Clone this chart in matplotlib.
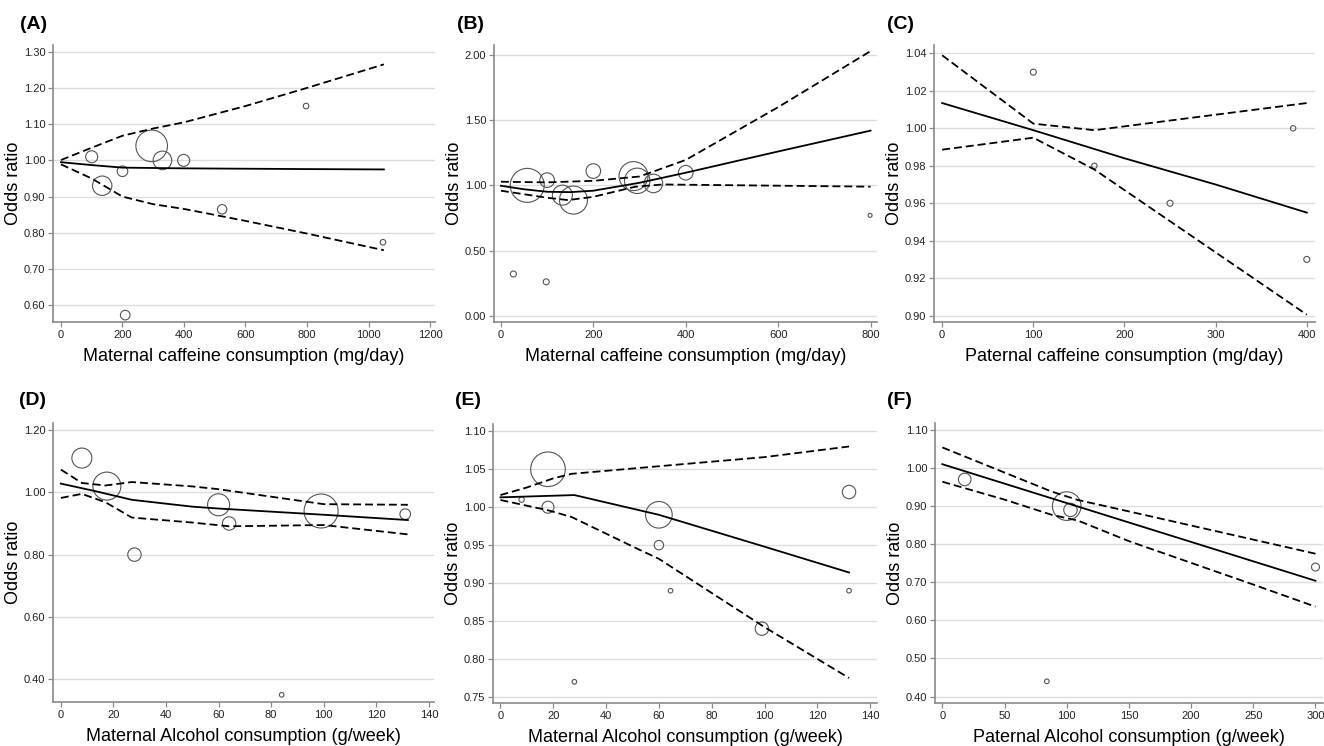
import matplotlib
matplotlib.use("Agg")
import matplotlib.pyplot as plt
import numpy as np

plt.rcParams['font.family'] = ['Liberation Sans', 'DejaVu Sans']

# ---- (A) maternal caffeine ----
a_x = [100, 134, 200, 295, 330, 399, 209, 524, 797, 1047]
a_or = [1.01, 0.93, 0.97, 1.04, 1.00, 1.00, 0.573, 0.865, 1.15, 0.774]
a_wt = [6, 9.7, 5.3, 15.8, 9.3, 6, 4.8, 4.7, 2.8, 2.8]
a_fit_x = [0, 100, 200, 400, 600, 800, 1050]
a_fit = [0.995, 0.987, 0.980, 0.978, 0.977, 0.976, 0.975]
a_ci_x = [0, 100, 200, 300, 400, 600, 800, 1050]
a_hi = [1.001, 1.035, 1.068, 1.088, 1.105, 1.150, 1.200, 1.265]
a_lo = [0.989, 0.950, 0.900, 0.879, 0.866, 0.833, 0.798, 0.752]

# ---- (B) maternal caffeine ----
b_x = [27, 98, 57, 100, 133, 157, 200, 287, 295, 330, 400, 799]
b_or = [0.32, 0.26, 1.00, 1.04, 0.925, 0.887, 1.11, 1.071, 1.035, 1.015, 1.097, 0.77]
b_wt = [3, 3, 17, 7.3, 10, 14, 7.3, 14.5, 12.7, 9.3, 7.3, 2]
b_fit_x = [0, 50, 100, 150, 200, 300, 400, 600, 800]
b_fit = [0.997, 0.97, 0.951, 0.948, 0.959, 1.02, 1.097, 1.26, 1.42]
b_hi_x = [0, 100, 200, 300, 400, 600, 800]
b_hi = [1.028, 1.023, 1.035, 1.068, 1.195, 1.60, 2.03]
b_lo_x = [0, 100, 145, 200, 290, 350, 400, 800]
b_lo = [0.959, 0.905, 0.887, 0.912, 0.989, 1.007, 1.005, 0.99]

# ---- (C) paternal caffeine ----
c_x = [100, 167, 250, 385, 400]
c_or = [1.03, 0.98, 0.96, 1.00, 0.93]
c_wt = [3, 2.7, 3, 2.7, 3]
c_fit_x = [0, 100, 200, 300, 400]
c_fit = [1.0135, 0.999, 0.984, 0.970, 0.955]
c_ci_x = [0, 100, 167, 400]
c_hi = [1.039, 1.0025, 0.999, 1.0135]
c_lo = [0.9886, 0.995, 0.978, 0.9005]

# ---- (D) maternal alcohol ----
d_x = [8, 17.5, 28, 60, 64, 99, 131, 84]
d_or = [1.11, 1.02, 0.80, 0.96, 0.90, 0.94, 0.93, 0.35]
d_wt = [10, 14, 6.7, 11, 6.7, 17, 5.3, 2.3]
d_fit_x = [0, 13, 27, 50, 60, 100, 132]
d_fit = [1.028, 1.004, 0.976, 0.954, 0.948, 0.928, 0.911]
d_hi_x = [0, 8, 17, 27, 50, 60, 100, 132]
d_hi = [1.073, 1.030, 1.022, 1.033, 1.019, 1.010, 0.962, 0.960]
d_lo_x = [0, 8, 17, 27, 50, 64, 100, 132]
d_lo = [0.982, 0.995, 0.968, 0.919, 0.903, 0.891, 0.895, 0.865]

# ---- (E) maternal alcohol ----
e_x = [8, 18, 18, 28, 60, 60, 64.4, 99, 132, 132]
e_or = [1.01, 1.05, 1.00, 0.77, 0.99, 0.95, 0.89, 0.84, 1.02, 0.89]
e_wt = [2.7, 17.3, 6, 2.3, 13.3, 4.7, 2.3, 6.7, 6.7, 2.3]
e_fit_x = [0, 28, 60, 100, 132]
e_fit = [1.013, 1.016, 0.990, 0.948, 0.914]
e_hi_x = [0, 10, 20, 27, 60, 100, 132]
e_hi = [1.016, 1.026, 1.038, 1.044, 1.054, 1.066, 1.080]
e_lo_x = [0, 18, 27, 52, 60, 100, 132]
e_lo = [1.0095, 0.996, 0.987, 0.945, 0.932, 0.842, 0.775]

# ---- (F) paternal alcohol ----
f_x = [18, 100, 103, 84, 300]
f_or = [0.97, 0.90, 0.89, 0.44, 0.74]
f_wt = [6.3, 14.3, 6.7, 2.3, 4]
f_fit_x = [0, 300]
f_fit = [1.010, 0.704]
f_ci_x = [0, 50, 88, 109, 150, 200, 250, 300]
f_hi = [1.054, 0.988, 0.938, 0.916, 0.886, 0.849, 0.812, 0.775]
f_lo = [0.964, 0.917, 0.877, 0.862, 0.808, 0.751, 0.694, 0.636]

cafe_m = 'Maternal caffeine consumption (mg/day)'
cafe_p = 'Paternal caffeine consumption (mg/day)'
alc_m = 'Maternal Alcohol consumption (g/week)'
alc_p = 'Paternal Alcohol consumption (g/week)'

panels = [
    # letter, rect, data, xlim, ylim, xticks, yticks, xlabel
    ('(A)', [0.040, 0.5684, 0.2885, 0.3713],
     (a_x, a_or, a_wt, a_fit_x, a_fit, a_ci_x, a_hi, a_ci_x, a_lo),
     (-26, 1216), (0.554, 1.3185), np.arange(0, 1201, 200), np.arange(0.6, 1.301, 0.1), cafe_m),
    ('(B)', [0.3731, 0.5684, 0.2893, 0.3713],
     (b_x, b_or, b_wt, b_fit_x, b_fit, b_hi_x, b_hi, b_lo_x, b_lo),
     (-15, 814), (-0.048, 2.077), np.arange(0, 801, 200), np.arange(0, 2.01, 0.5), cafe_m),
    ('(C)', [0.7054, 0.5684, 0.2878, 0.3713],
     (c_x, c_or, c_wt, c_fit_x, c_fit, c_ci_x, c_hi, c_ci_x, c_lo),
     (-9, 409), (0.8966, 1.0445), np.arange(0, 401, 100), np.arange(0.90, 1.0401, 0.02), cafe_p),
    ('(D)', [0.040, 0.059, 0.2877, 0.374],
     (d_x, d_or, d_wt, d_fit_x, d_fit, d_hi_x, d_hi, d_lo_x, d_lo),
     (-3, 141.9), (0.327, 1.2226), np.arange(0, 141, 20), np.arange(0.4, 1.201, 0.2), alc_m),
    ('(E)', [0.3724, 0.0576, 0.2900, 0.3740],
     (e_x, e_or, e_wt, e_fit_x, e_fit, e_hi_x, e_hi, e_lo_x, e_lo),
     (-2.8, 142.6), (0.742, 1.1096), np.arange(0, 141, 20), np.arange(0.75, 1.101, 0.05), alc_m),
    ('(F)', [0.7062, 0.0576, 0.2930, 0.3753],
     (f_x, f_or, f_wt, f_fit_x, f_fit, f_ci_x, f_hi, f_ci_x, f_lo),
     (-5.9, 306), (0.383, 1.118), np.arange(0, 301, 50), np.arange(0.4, 1.101, 0.1), alc_p),
]

letter_pos = {'(A)': (0.015, 0.978), '(B)': (0.345, 0.978), '(C)': (0.670, 0.978),
              '(D)': (0.014, 0.474), '(E)': (0.344, 0.474), '(F)': (0.670, 0.474)}

fig = plt.figure(figsize=(13.24, 7.46), dpi=100)

for letter, rect, data, xlim, ylim, xt, yt, xlab in panels:
    px, por, pwt, fx, fy, hx, hy, lx, ly = data
    ax = fig.add_axes(rect)
    ax.set_xlim(*xlim)
    ax.set_ylim(*ylim)
    ax.set_xticks(xt)
    ax.set_yticks(yt)
    ax.set_yticklabels(['%.2f' % v for v in yt])
    ax.grid(axis='y', color='#dcdcdc', linewidth=1.0)
    ax.set_axisbelow(True)
    for s in ['top', 'right']:
        ax.spines[s].set_visible(False)
    for s in ['left', 'bottom']:
        ax.spines[s].set_color('#8a8a8a')
        ax.spines[s].set_linewidth(1.2)
    ax.tick_params(direction='out', length=3.5, width=0.9, color='#8a8a8a',
                   labelsize=8, labelcolor='#222222', pad=2)

    sizes = [(2 * w * 0.72) ** 2 for w in pwt]
    ax.scatter(px, por, s=sizes, facecolors='none', edgecolors='#555555',
               linewidths=0.8, zorder=3, clip_on=False)
    ax.plot(fx, fy, color='black', linewidth=1.3, zorder=4)
    ax.plot(hx, hy, color='black', linewidth=1.3, dashes=(4.4, 2.2), zorder=4)
    ax.plot(lx, ly, color='black', linewidth=1.3, dashes=(4.4, 2.2), zorder=4)

    ax.set_xlabel(xlab, fontsize=13, labelpad=6)
    ax.set_ylabel('Odds ratio', fontsize=13, labelpad=1)

    lx0, ly0 = letter_pos[letter]
    fig.text(lx0, ly0, letter, fontsize=14, fontweight='bold', va='top', ha='left')

fig.savefig('out.png', dpi=100)
